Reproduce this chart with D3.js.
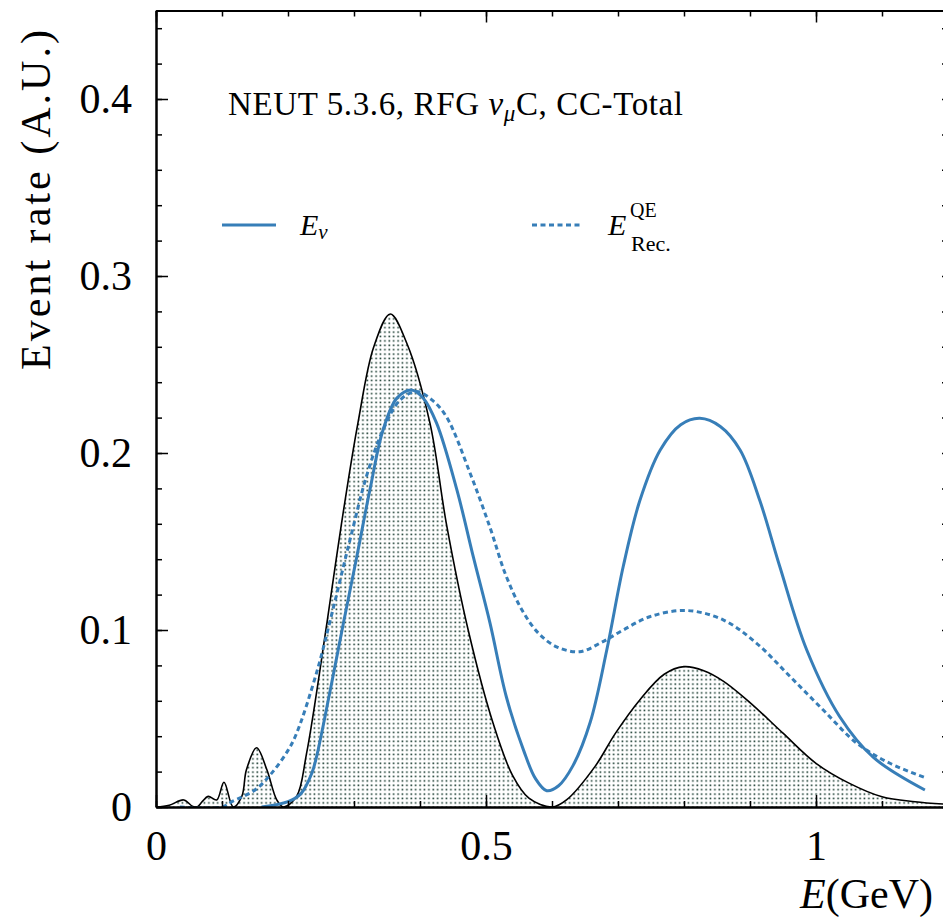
<!DOCTYPE html>
<html>
<head>
<meta charset="utf-8">
<script src="https://cdn.jsdelivr.net/npm/d3@7"></script>
<style>
  html, body { margin: 0; padding: 0; background: #fff; }
  svg { display: block; font-family: "Liberation Serif", "DejaVu Serif", serif; }
</style>
</head>
<body>
<div id="chart"></div>
<script>
// Data: [E (GeV), event rate (A.U.)]
const oscFlux = [
  [0, 0], [0.02, 0.001], [0.042, 0.004], [0.055, 0.0005], [0.062, 0], [0.07, 0.003],
  [0.079, 0.006], [0.092, 0.004], [0.103, 0.014], [0.117, 0], [0.13, 0.006],
  [0.137, 0.021], [0.1525, 0.0335], [0.168, 0.021], [0.183, 0.004], [0.193, 0],
  [0.213, 0.006], [0.228, 0.030], [0.259, 0.104], [0.281, 0.160], [0.306, 0.217],
  [0.33, 0.260], [0.355, 0.2785], [0.38, 0.262], [0.415, 0.217], [0.44, 0.160],
  [0.473, 0.100], [0.511, 0.047], [0.54, 0.018], [0.565, 0.005], [0.6, 0],
  [0.622, 0.004], [0.665, 0.0228], [0.696, 0.0416], [0.733, 0.0605], [0.77, 0.075],
  [0.80, 0.0793], [0.83, 0.077], [0.86, 0.071], [0.9, 0.059], [0.95, 0.0417],
  [1.0, 0.0247], [1.05, 0.0135], [1.10, 0.0058], [1.15, 0.003], [1.2, 0.0015]
];

const trueE = [
  [0.16, 0], [0.2, 0.003], [0.22, 0.0077], [0.236, 0.019], [0.243, 0.028],
  [0.264, 0.066], [0.284, 0.104], [0.304, 0.141], [0.324, 0.179], [0.344, 0.213],
  [0.365, 0.231], [0.387, 0.2356], [0.405, 0.231], [0.425, 0.217], [0.456, 0.179],
  [0.481, 0.141], [0.506, 0.104], [0.531, 0.062], [0.557, 0.032], [0.575, 0.016],
  [0.592, 0.0092], [0.61, 0.012], [0.632, 0.0235], [0.658, 0.048], [0.683, 0.0887],
  [0.708, 0.136], [0.733, 0.173], [0.764, 0.2017], [0.795, 0.216], [0.824, 0.2196],
  [0.855, 0.215], [0.885, 0.2017], [0.915, 0.173], [0.945, 0.136], [0.986, 0.0887],
  [1.036, 0.051], [1.087, 0.028], [1.165, 0.0096]
];

const recoE = [
  [0.036, 0], [0.1, 0], [0.115, 0.003], [0.15, 0.0096], [0.175, 0.019], [0.2, 0.032],
  [0.213, 0.0416], [0.243, 0.0755], [0.269, 0.113], [0.294, 0.151], [0.319, 0.187],
  [0.344, 0.213], [0.37, 0.23], [0.395, 0.2347], [0.418, 0.23], [0.44, 0.2205],
  [0.476, 0.1885], [0.506, 0.158], [0.53, 0.131], [0.555, 0.111], [0.58, 0.098],
  [0.607, 0.0905], [0.642, 0.0877], [0.675, 0.093], [0.708, 0.100], [0.748, 0.1075],
  [0.804, 0.111], [0.86, 0.1056], [0.91, 0.0925], [0.961, 0.0736], [1.011, 0.0548],
  [1.062, 0.036], [1.112, 0.0247], [1.168, 0.0162]
];

const xMajor = [0, 0.5, 1];
const xMajorLabels = ["0", "0.5", "1"];
const yMajor = [0, 0.1, 0.2, 0.3, 0.4];
const yMajorLabels = ["0", "0.1", "0.2", "0.3", "0.4"];

const blue = "#377eb8";
const W = 943, H = 918;
const pLeft = 156, pRight = 948, pTop = 10.5, pBottom = 807;

const svg = d3.select("#chart").append("svg")
    .attr("width", W)
    .attr("height", H);

const x = d3.scaleLinear().domain([0, 1.2]).range([pLeft, pRight]);
const y = d3.scaleLinear().domain([0, 0.45]).range([pBottom, pTop]);

// dotted hatch fill
const defs = svg.append("defs");
const pat = defs.append("pattern")
    .attr("id", "dots")
    .attr("patternUnits", "userSpaceOnUse")
    .attr("width", 4.4)
    .attr("height", 4.4);
pat.append("rect")
    .attr("x", 1.3).attr("y", 1.3)
    .attr("width", 1.6).attr("height", 1.6)
    .attr("fill", "#173a2e");

defs.append("clipPath").attr("id", "plot")
  .append("rect")
    .attr("x", pLeft).attr("y", pTop)
    .attr("width", pRight - pLeft).attr("height", pBottom - pTop);

const plot = svg.append("g").attr("clip-path", "url(#plot)");

const curve = d3.curveCatmullRom.alpha(0.5);

const area = d3.area()
    .x(d => x(d[0]))
    .y0(y(0))
    .y1(d => y(d[1]))
    .curve(curve);

const line = d3.line()
    .x(d => x(d[0]))
    .y(d => y(d[1]))
    .curve(curve);

plot.append("path")
    .datum(oscFlux)
    .attr("d", area)
    .attr("fill", "url(#dots)");

plot.append("path")
    .datum(oscFlux)
    .attr("d", line)
    .attr("fill", "none")
    .attr("stroke", "#000")
    .attr("stroke-width", 1.6);

plot.append("path")
    .datum(recoE)
    .attr("d", line)
    .attr("fill", "none")
    .attr("stroke", blue)
    .attr("stroke-width", 3)
    .attr("stroke-dasharray", "5,3.5");

plot.append("path")
    .datum(trueE)
    .attr("d", line)
    .attr("fill", "none")
    .attr("stroke", blue)
    .attr("stroke-width", 3);

// axes with inward ticks
const xMinor = d3.range(0, 1.21, 0.1);
const yMinor = d3.range(0, 0.451, 0.02);

function styleAxis(g) {
  g.select(".domain").attr("stroke-width", 2);
  g.selectAll(".tick line").attr("stroke-width", 1.5);
  g.selectAll("text")
      .attr("font-family", "'Liberation Serif', serif")
      .attr("font-size", 42)
      .attr("fill", "#000");
}

svg.append("g")
    .attr("transform", `translate(0,${pBottom})`)
    .call(d3.axisBottom(x).tickValues(xMinor).tickSize(-6).tickFormat("").tickSizeOuter(0))
    .call(styleAxis);
svg.append("g")
    .attr("transform", `translate(0,${pBottom})`)
    .call(d3.axisBottom(x).tickValues(xMajor).tickSize(-12).tickPadding(23)
        .tickFormat((d, i) => xMajorLabels[i]).tickSizeOuter(0))
    .call(styleAxis);

svg.append("g")
    .attr("transform", `translate(0,${pTop})`)
    .call(d3.axisTop(x).tickValues(xMinor).tickSize(-6).tickFormat("").tickSizeOuter(0))
    .call(styleAxis);
svg.append("g")
    .attr("transform", `translate(0,${pTop})`)
    .call(d3.axisTop(x).tickValues(xMajor).tickSize(-12).tickFormat("").tickSizeOuter(0))
    .call(styleAxis);

svg.append("g")
    .attr("transform", `translate(${pLeft},0)`)
    .call(d3.axisLeft(y).tickValues(yMinor).tickSize(-6).tickFormat("").tickSizeOuter(0))
    .call(styleAxis);
svg.append("g")
    .attr("transform", `translate(${pLeft},0)`)
    .call(d3.axisLeft(y).tickValues(yMajor).tickSize(-12).tickPadding(24)
        .tickFormat((d, i) => yMajorLabels[i]).tickSizeOuter(0))
    .call(styleAxis);

svg.append("g")
    .attr("transform", `translate(${pRight},0)`)
    .call(d3.axisRight(y).tickValues(yMinor).tickSize(-6).tickFormat("").tickSizeOuter(0))
    .call(styleAxis);

// axis titles
svg.append("text")
    .attr("transform", "translate(50,30) rotate(-90)")
    .attr("text-anchor", "end")
    .attr("font-size", 42)
    .attr("textLength", 340)
    .attr("lengthAdjust", "spacing")
    .text("Event rate (A.U.)");

const xl = svg.append("text")
    .attr("x", 933)
    .attr("y", 908)
    .attr("text-anchor", "end")
    .attr("font-size", 42);
xl.append("tspan").attr("font-style", "italic").text("E");
xl.append("tspan").text("(GeV)");

// header
const title = svg.append("text")
    .attr("x", 228)
    .attr("y", 115)
    .attr("font-size", 33)
    .attr("textLength", 455)
    .attr("lengthAdjust", "spacing");
title.append("tspan").text("NEUT 5.3.6, RFG ");
title.append("tspan").attr("font-style", "italic").text("ν");
title.append("tspan").attr("font-style", "italic").attr("font-size", 23).attr("dy", 6).text("μ");
title.append("tspan").attr("dy", -6).text("C, CC-Total");

// legend
svg.append("line")
    .attr("x1", 222).attr("x2", 276)
    .attr("y1", 225).attr("y2", 225)
    .attr("stroke", blue).attr("stroke-width", 3);
const l1 = svg.append("text").attr("x", 300).attr("y", 235).attr("font-size", 30);
l1.append("tspan").attr("font-style", "italic").text("E");
l1.append("tspan").attr("font-style", "italic").attr("font-size", 21).attr("dy", 4).text("ν");

svg.append("line")
    .attr("x1", 532).attr("x2", 583)
    .attr("y1", 225).attr("y2", 225)
    .attr("stroke", blue).attr("stroke-width", 3)
    .attr("stroke-dasharray", "5,3.5");
svg.append("text").attr("x", 608).attr("y", 235).attr("font-size", 30)
    .attr("font-style", "italic").text("E");
svg.append("text").attr("x", 630).attr("y", 217).attr("font-size", 20).text("QE");
svg.append("text").attr("x", 631).attr("y", 251).attr("font-size", 22).text("Rec.");
</script>
</body>
</html>
